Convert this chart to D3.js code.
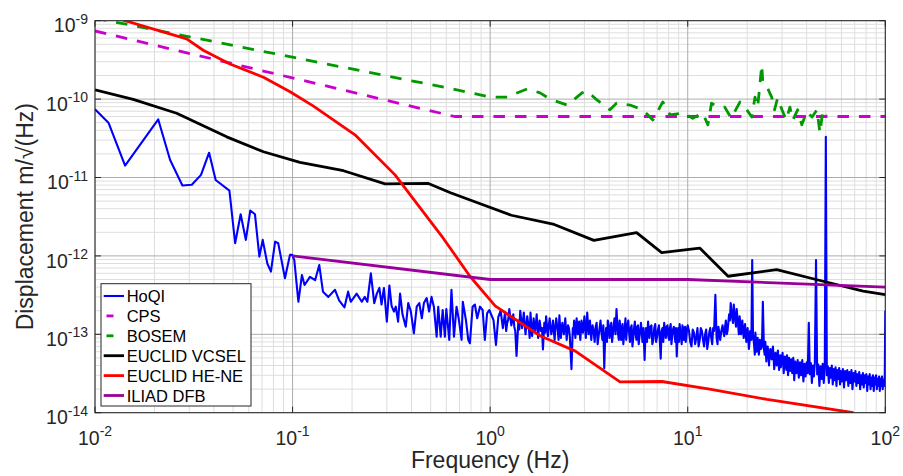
<!DOCTYPE html>
<html>
<head>
<meta charset="utf-8">
<script src="https://cdn.jsdelivr.net/npm/d3@7"></script>
<style>
    html, body { margin: 0; padding: 0; background: #fff; }
    svg { display: block; font-family: "Liberation Sans", Arial, Helvetica, sans-serif; }
</style>
</head>
<body>
<div id="chartContainer"></div>
<script>
"use strict";

// [frequency Hz, displacement m/sqrt(Hz)]
const hoqi = [
    [0.0100, 7.4e-11], [0.0117, 5.0e-11], [0.0142, 1.42e-11], [0.0209, 5.5e-11], [0.0240, 1.67e-11],
    [0.0277, 7.9e-12], [0.0309, 8.1e-12], [0.0344, 1.08e-11], [0.0378, 2.07e-11], [0.0408, 9.3e-12],
    [0.0479, 6.8e-12], [0.0512, 1.45e-12], [0.0546, 3.4e-12], [0.0580, 1.6e-12], [0.0611, 3.8e-12],
    [0.0645, 3.4e-12], [0.0679, 9.8e-13], [0.0706, 1.6e-12], [0.0745, 8.0e-13], [0.0777, 6.3e-13],
    [0.0816, 1.52e-12], [0.0846, 1.45e-12], [0.0915, 5.2e-13], [0.0970, 1.03e-12], [0.0995, 1.03e-12],
    [0.102, 8.9e-13], [0.107, 2.6e-13], [0.1115, 5.7e-13], [0.115, 4.25e-13], [0.1225, 5.4e-13],
    [0.130, 4.9e-13], [0.1365, 7.65e-13], [0.1425, 3.5e-13], [0.1517, 3.0e-13], [0.164, 3.7e-13],
    [0.172, 2.7e-13], [0.183, 2.2e-13], [0.191, 3.5e-13], [0.197, 2.6e-13], [0.211, 3.3e-13],
    [0.224, 2.6e-13], [0.232, 3.0e-13], [0.239, 2.6e-13], [0.249, 6.0e-13], [0.259, 2.5e-13],
    [0.267, 3.3e-13], [0.275, 3.9e-13], [0.282, 2.4e-13], [0.290, 3.9e-13], [0.300, 1.45e-13],
    [0.309, 4.2e-13], [0.317, 2.3e-13], [0.326, 1.95e-13], [0.333, 2.25e-13], [0.342, 1.45e-13],
    [0.350, 3.3e-13], [0.360, 1.8e-13], [0.374, 1.25e-13], [0.385, 2.5e-13], [0.397, 1.95e-13],
    [0.411, 1.03e-13], [0.425, 2.25e-13], [0.438, 2.5e-13], [0.451, 1.6e-13], [0.462, 2.5e-13],
    [0.477, 2.9e-13], [0.491, 1.95e-13], [0.505, 3.0e-13], [0.519, 2.25e-13], [0.536, 9.3e-14],
    [0.546, 2.25e-13], [0.562, 9.3e-14], [0.575, 2.04e-13], [0.590, 9.3e-14], [0.600, 2.1e-13],
    [0.621, 8.5e-14], [0.637, 3.7e-13], [0.656, 9.3e-14], [0.676, 2.25e-13], [0.695, 1.52e-13],
    [0.717, 8.5e-14], [0.727, 2.6e-13], [0.754, 1.52e-13], [0.775, 8.5e-14], [0.790, 7.7e-14],
    [0.815, 2.25e-13], [0.837, 2.4e-13], [0.860, 1.6e-13], [0.888, 2.25e-13], [0.916, 2.04e-13],
    [0.940, 8.5e-14], [0.965, 1.85e-13], [0.990, 2.04e-13], [1.04, 1.52e-13], [1.07, 7.3e-14],
    [1.10, 1.67e-13], [1.13, 2.0e-13], [1.16, 1.2e-13], [1.19, 1.9e-13], [1.22, 1.4e-13],
    [1.25, 2.1e-13], [1.28, 1.3e-13], [1.31, 1.8e-13], [1.34, 1.1e-13], [1.36, 5.3e-14],
    [1.39, 1.5e-13], [1.42, 2.0e-13], [1.45, 1.2e-13], [1.48, 1.9e-13], [1.51, 1.0e-13],
    [1.54, 1.7e-13], [1.57, 1.2e-13], [1.60, 1.9e-13], [1.63, 9.5e-14], [1.66, 1.6e-13],
    [1.69, 1.1e-13], [1.72, 1.8e-13], [1.75, 9.0e-14], [1.78, 1.5e-13], [1.81, 1.1e-13],
    [1.85, 6.4e-14], [1.88, 1.4e-13], [1.92, 1.7e-13], [1.96, 9.5e-14], [2.00, 1.6e-13],
    [2.04, 1.0e-13], [2.08, 1.5e-13], [2.12, 8.5e-14], [2.16, 1.6e-13], [2.20, 1.1e-13],
    [2.24, 1.75e-13], [2.28, 9.0e-14], [2.32, 1.4e-13], [2.36, 1.0e-13], [2.40, 1.6e-13],
    [2.44, 8.5e-14], [2.48, 1.3e-13], [2.53, 9.5e-14], [2.58, 3.6e-14], [2.62, 1.2e-13],
    [2.66, 1.5e-13], [2.70, 9.0e-14], [2.74, 1.6e-13], [2.78, 1.0e-13], [2.82, 1.45e-13],
    [2.86, 8.5e-14], [2.90, 1.5e-13], [2.95, 1.05e-13], [3.00, 1.7e-13], [3.05, 9.0e-14],
    [3.10, 1.9e-13], [3.15, 1.0e-13], [3.20, 1.5e-13], [3.25, 8.5e-14], [3.30, 1.3e-13],
    [3.38, 8.0e-14], [3.46, 1.4e-13], [3.54, 9.5e-14], [3.62, 1.5e-13], [3.70, 8.5e-14],
    [3.78, 3.7e-14], [3.86, 1.2e-13], [3.94, 1.5e-13], [4.02, 9.0e-14], [4.10, 1.4e-13],
    [4.18, 1.0e-13], [4.26, 1.6e-13], [4.36, 2.1e-13], [4.44, 1.0e-13], [4.52, 1.5e-13],
    [4.60, 8.5e-14], [4.68, 1.35e-13], [4.76, 9.5e-14], [4.84, 1.6e-13], [4.92, 1.1e-13],
    [5.00, 1.5e-13], [5.10, 8.0e-14], [5.20, 1.3e-13], [5.30, 9.0e-14], [5.40, 1.45e-13],
    [5.50, 8.5e-14], [5.60, 1.3e-13], [5.70, 9.5e-14], [5.80, 1.4e-13], [5.90, 8.0e-14],
    [6.05, 4.7e-14], [6.15, 1.2e-13], [6.30, 1.45e-13], [6.40, 9.0e-14], [6.55, 1.3e-13],
    [6.70, 8.5e-14], [6.85, 1.35e-13], [7.00, 9.5e-14], [7.15, 1.3e-13], [7.30, 4.9e-14],
    [7.45, 1.2e-13], [7.60, 1.4e-13], [7.75, 9.0e-14], [7.90, 1.3e-13], [8.05, 8.5e-14],
    [8.20, 1.35e-13], [8.35, 9.5e-14], [8.50, 1.25e-13], [8.65, 8.0e-14], [8.80, 5.2e-14],
    [8.95, 1.2e-13], [9.10, 1.35e-13], [9.25, 9.0e-14], [9.40, 1.3e-13], [9.55, 8.5e-14],
    [9.70, 1.25e-13], [9.85, 9.5e-14], [10.0, 1.3e-13], [10.3, 8.0e-14], [10.6, 1.15e-13],
    [10.9, 7.5e-14], [11.2, 1.2e-13], [11.5, 8.5e-14], [11.8, 1.1e-13], [12.1, 7.0e-14],
    [12.4, 1.15e-13], [12.7, 8.0e-14], [13.0, 1.2e-13], [13.3, 7.5e-14], [13.6, 1.1e-13],
    [13.8, 3.2e-13], [14.0, 9.0e-14], [14.3, 1.25e-13], [14.6, 8.5e-14], [15.0, 1.3e-13],
    [15.3, 9.5e-14], [15.6, 1.5e-13], [15.9, 1.1e-13], [16.2, 1.8e-13], [16.5, 2.5e-13],
    [16.8, 1.6e-13], [17.1, 2.4e-13], [17.4, 1.5e-13], [17.7, 2.1e-13], [18.0, 1.3e-13],
    [18.3, 1.7e-13], [18.6, 1.0e-13], [18.9, 1.5e-13], [19.2, 9.0e-14], [19.5, 1.35e-13],
    [19.8, 8.0e-14], [20.1, 1.2e-13], [20.4, 6.5e-14], [20.7, 1.1e-13], [21.0, 8.5e-14],
    [21.2, 8.85e-13], [21.4, 1.0e-13], [21.7, 7.0e-14], [22.0, 1.05e-13], [22.3, 6.0e-14],
    [22.6, 9.0e-14], [22.9, 5.5e-14], [23.2, 8.5e-14], [23.5, 6.5e-14], [24.0, 2.6e-13],
    [24.3, 6.5e-14], [24.7, 8.0e-14], [25.0, 4.5e-14], [25.4, 7.0e-14], [25.8, 4.0e-14],
    [26.2, 6.5e-14], [26.6, 4.8e-14], [27.0, 7.0e-14], [27.4, 3.6e-14], [27.8, 5.8e-14],
    [28.2, 4.0e-14], [28.6, 6.2e-14], [29.0, 3.5e-14], [29.4, 5.4e-14], [29.8, 4.2e-14],
    [30.2, 5.8e-14], [30.6, 3.2e-14], [31.0, 5.2e-14], [31.4, 3.8e-14], [31.8, 5.4e-14],
    [32.2, 3.0e-14], [32.6, 5.0e-14], [33.0, 3.4e-14], [33.4, 4.8e-14], [33.8, 3.2e-14],
    [34.2, 5.0e-14], [34.6, 2.6e-14], [35.0, 4.5e-14], [35.5, 3.2e-14], [36.0, 4.7e-14],
    [36.5, 2.8e-14], [37.0, 4.4e-14], [37.5, 3.0e-14], [38.0, 4.7e-14], [38.5, 2.5e-14],
    [39.0, 4.2e-14], [39.5, 2.9e-14], [40.0, 4.4e-14], [40.5, 3.2e-14], [41.0, 1.4e-13],
    [41.5, 3.1e-14], [42.0, 4.3e-14], [42.5, 2.4e-14], [43.0, 4.0e-14], [43.5, 2.9e-14],
    [44.0, 4.3e-14], [44.6, 8.85e-13], [45.2, 3.1e-14], [45.8, 4.1e-14], [46.4, 2.2e-14],
    [47.0, 3.9e-14], [47.6, 2.7e-14], [48.2, 4.2e-14], [48.8, 2.4e-14], [49.4, 3.9e-14],
    [50.0, 3.3e-11], [50.6, 3.0e-14], [51.2, 3.9e-14], [51.8, 2.4e-14], [52.4, 3.7e-14],
    [53.0, 2.8e-14], [53.6, 4.0e-14], [54.2, 2.3e-14], [54.8, 3.6e-14], [55.4, 2.6e-14],
    [56.0, 3.8e-14], [56.6, 2.2e-14], [57.2, 3.5e-14], [57.8, 2.7e-14], [58.4, 3.7e-14],
    [59.0, 2.3e-14], [59.6, 3.4e-14], [60.2, 2.5e-14], [61.0, 3.6e-14], [61.8, 2.1e-14],
    [62.6, 3.4e-14], [63.4, 2.6e-14], [64.2, 3.5e-14], [65.0, 2.2e-14], [65.8, 3.3e-14],
    [66.6, 2.4e-14], [67.4, 3.5e-14], [68.2, 2.0e-14], [69.0, 3.2e-14], [69.8, 2.5e-14],
    [70.6, 3.4e-14], [71.4, 2.2e-14], [72.2, 3.1e-14], [73.0, 2.4e-14], [73.8, 3.3e-14],
    [74.6, 2.0e-14], [75.4, 3.0e-14], [76.2, 2.3e-14], [77.0, 3.2e-14], [77.8, 2.1e-14],
    [78.6, 3.0e-14], [79.4, 2.4e-14], [80.2, 3.1e-14], [81.0, 1.9e-14], [81.8, 2.9e-14],
    [82.6, 2.3e-14], [83.4, 3.1e-14], [84.2, 2.0e-14], [85.0, 2.8e-14], [85.8, 2.2e-14],
    [86.6, 3.0e-14], [87.4, 1.9e-14], [88.2, 2.8e-14], [89.0, 2.3e-14], [89.8, 3.0e-14],
    [90.6, 2.0e-14], [91.4, 2.7e-14], [92.2, 2.2e-14], [93.0, 2.9e-14], [93.8, 1.9e-14],
    [94.6, 2.7e-14], [95.4, 2.2e-14], [96.2, 2.9e-14], [97.0, 2.0e-14], [97.8, 2.6e-14],
    [98.6, 2.2e-14], [99.4, 3.0e-14], [100, 2.0e-13]
];

// extra HoQI readings in between, where the trace is a dense band
const hoqiDense = [
    [1.205, 1.1e-13], [1.235, 1.55e-13], [1.295, 1.5e-13], [1.325, 1.25e-13], [1.405, 1.15e-13],
    [1.465, 1.45e-13], [1.525, 1.3e-13], [1.585, 9.0e-14], [1.645, 1.2e-13], [1.705, 1.35e-13],
    [1.765, 1.2e-13], [1.83, 1.2e-13], [1.90, 1.05e-13], [1.98, 1.25e-13], [2.06, 1.15e-13],
    [2.14, 1.25e-13], [2.22, 8.5e-14], [2.30, 1.2e-13], [2.38, 1.25e-13], [2.46, 1.1e-13],
    [2.505, 1.2e-13], [2.64, 1.0e-13], [2.72, 1.25e-13], [2.80, 1.2e-13], [2.88, 1.1e-13],
    [2.975, 1.3e-13], [3.075, 1.25e-13], [3.175, 1.3e-13], [3.275, 1.1e-13],
    [3.34, 1.1e-13], [3.42, 1.25e-13], [3.50, 7.5e-14], [3.58, 1.2e-13], [3.66, 1.05e-13],
    [3.74, 1.3e-13], [3.82, 9.0e-14], [3.90, 8.0e-14], [3.98, 1.3e-13], [4.06, 1.2e-13],
    [4.14, 8.0e-14], [4.22, 1.3e-13], [4.31, 1.0e-13], [4.40, 1.4e-13], [4.48, 8.5e-14],
    [4.56, 1.25e-13], [4.64, 1.1e-13], [4.72, 7.5e-14], [4.80, 1.2e-13], [4.88, 8.5e-14],
    [4.96, 1.3e-13], [5.05, 1.05e-13], [5.15, 1.2e-13], [5.25, 7.0e-14], [5.35, 1.2e-13],
    [5.45, 1.0e-13], [5.55, 1.25e-13], [5.65, 7.5e-14], [5.75, 1.15e-13], [5.85, 1.05e-13],
    [5.97, 1.2e-13], [6.10, 9.0e-14], [6.22, 8.0e-14], [6.35, 1.1e-13], [6.47, 1.25e-13],
    [6.62, 7.5e-14], [6.77, 1.2e-13], [6.92, 8.0e-14], [7.07, 1.15e-13], [7.22, 8.5e-14],
    [7.37, 1.1e-13], [7.52, 8.0e-14], [7.67, 1.15e-13], [7.82, 1.25e-13], [7.97, 9.5e-14],
    [8.12, 1.2e-13], [8.27, 7.5e-14], [8.42, 1.15e-13], [8.57, 1.05e-13], [8.72, 1.2e-13],
    [8.87, 9.0e-14], [9.02, 8.0e-14], [9.17, 1.1e-13], [9.32, 7.5e-14], [9.47, 1.2e-13],
    [9.62, 1.05e-13], [9.77, 8.0e-14], [9.92, 1.15e-13], [10.15, 1.1e-13], [10.45, 7.0e-14],
    [10.75, 1.05e-13], [11.05, 9.0e-14], [11.35, 7.0e-14], [11.65, 1.2e-13], [11.95, 8.5e-14],
    [12.25, 1.0e-13], [12.55, 6.5e-14], [12.85, 1.05e-13], [13.15, 9.0e-14], [13.45, 1.2e-13],
    [14.15, 7.5e-14], [14.45, 1.05e-13], [14.8, 1.1e-13], [15.15, 1.1e-13], [15.45, 1.25e-13],
    [15.75, 1.0e-13], [16.05, 1.4e-13], [16.35, 1.5e-13], [16.65, 2.0e-13], [16.95, 1.4e-13],
    [17.25, 1.9e-13], [17.55, 1.25e-13], [17.85, 1.6e-13], [18.15, 1.0e-13], [18.45, 1.4e-13],
    [18.75, 1.25e-13], [19.05, 1.1e-13], [19.35, 1.2e-13], [19.65, 1.0e-13], [19.95, 1.0e-13],
    [20.25, 9.0e-14], [20.55, 8.0e-14], [20.85, 9.5e-14], [21.55, 8.5e-14], [21.85, 5.5e-14],
    [22.15, 8.0e-14], [22.45, 7.5e-14], [22.75, 7.0e-14], [23.05, 6.5e-14], [23.35, 7.5e-14],
    [23.75, 7.0e-14], [24.5, 5.5e-14], [24.85, 6.0e-14], [25.2, 7.0e-14], [25.6, 5.5e-14],
    [26.0, 6.0e-14], [26.4, 5.0e-14], [26.8, 6.0e-14], [27.2, 5.0e-14], [27.6, 4.5e-14],
    [28.0, 5.0e-14], [28.4, 5.5e-14], [28.8, 4.5e-14], [29.2, 4.8e-14], [29.6, 3.8e-14],
    [30.0, 5.0e-14], [30.4, 4.5e-14], [30.8, 4.2e-14], [31.2, 4.8e-14], [31.6, 3.5e-14],
    [32.0, 4.5e-14], [32.4, 4.0e-14], [32.8, 3.6e-14], [33.2, 4.3e-14], [33.6, 4.0e-14],
    [34.0, 3.8e-14], [34.4, 4.2e-14], [34.8, 3.5e-14]
];

const cps = [[0.01, 7.4e-10], [0.66, 6.0e-11], [100, 6.0e-11]];

const bosem = [
    [0.01, 1.08e-9], [0.625, 1.37e-10], [0.764, 1.23e-10], [1.0, 1.06e-10], [1.23, 1.06e-10],
    [1.29, 1.13e-10], [1.54, 1.35e-10], [1.79, 1.2e-10], [2.01, 1.0e-10], [2.45, 8.4e-11],
    [2.92, 1.2e-10], [3.1, 1.27e-10], [3.47, 9.75e-11], [4.04, 7.3e-11], [4.37, 8.9e-11],
    [5.1, 8.4e-11], [5.93, 7.3e-11], [6.66, 5.4e-11], [7.48, 9.2e-11], [8.13, 6.3e-11],
    [9.46, 6.65e-11], [10.6, 5.7e-11], [11.9, 6.65e-11], [12.65, 4.7e-11], [13.2, 8.9e-11],
    [14.2, 7.9e-11], [15.4, 7.9e-11], [16.6, 5.7e-11], [18.4, 9.2e-11], [19.9, 7.3e-11],
    [21.1, 5.9e-11], [21.9, 1.06e-10], [22.6, 7.9e-11], [23.7, 2.72e-10], [24.0, 1.6e-10],
    [25.2, 1.43e-10], [26.6, 1.06e-10], [27.5, 7.3e-11], [28.5, 1.03e-10], [30.0, 7.3e-11],
    [31.5, 5.4e-11], [32.9, 7.9e-11], [34.0, 5.4e-11], [36.0, 7.3e-11], [37.8, 4.7e-11],
    [40.0, 6.85e-11], [42.6, 5.9e-11], [45.1, 7.3e-11], [46.7, 3.7e-11], [48.3, 7.3e-11],
    [50.0, 6.3e-11]
];

const vcsel = [
    [0.01, 1.31e-10], [0.0156, 9.9e-11], [0.0259, 6.6e-11], [0.0464, 3.3e-11], [0.0712, 2.13e-11],
    [0.109, 1.56e-11], [0.181, 1.22e-11], [0.294, 8.3e-12], [0.487, 8.4e-12], [0.63, 6.4e-12],
    [1.28, 3.3e-12], [2.08, 2.55e-12], [3.35, 1.58e-12], [5.51, 1.98e-12], [7.38, 1.1e-12],
    [11.5, 1.26e-12], [16.0, 5.5e-13], [28.2, 6.7e-13], [44.6, 5.0e-13], [77.3, 3.56e-13],
    [100, 3.2e-13]
];

const hene = [
    [0.01, 1.3e-9], [0.0142, 1.0e-9], [0.0291, 5.85e-10], [0.0353, 4.2e-10], [0.0482, 2.8e-10],
    [0.0712, 1.9e-10], [0.0971, 1.24e-10], [0.127, 8.2e-11], [0.207, 3.5e-11], [0.33, 1.08e-11],
    [0.58, 1.67e-12], [0.79, 5.5e-13], [1.06, 2.3e-13], [1.8, 9.5e-14], [2.7, 6.1e-14],
    [4.54, 2.47e-14], [7.4, 2.5e-14], [12.9, 2.0e-14], [25.2, 1.48e-14], [69, 1.0e-14]
];

const dfb = [[0.1, 1.0e-12], [1, 5.0e-13], [10, 5.0e-13], [100, 4.0e-13]];

const seriesNames = ["HoQI", "CPS", "BOSEM", "EUCLID VCSEL", "EUCLID HE-NE", "ILIAD DFB"];
const xTickExps = [-2, -1, 0, 1, 2];
const yTickExps = [-14, -13, -12, -11, -10, -9];

const seriesStyles = [
    { color: "#0000ff", width: 2.1, dash: null },
    { color: "#cc00cc", width: 2.8, dash: "11.5,10" },
    { color: "#009900", width: 2.8, dash: "11.5,10" },
    { color: "#000000", width: 2.8, dash: null },
    { color: "#ff0000", width: 2.8, dash: null },
    { color: "#990099", width: 2.8, dash: null }
];

const drawChart = () => {
    var width = 903,
        height = 476;
    var left = 95, right = 885.3, top = 20.7, bottom = 412.7;

    var svg = d3.select("#chartContainer")
        .append("svg")
        .attr("width", width)
        .attr("height", height);

    var x = d3.scaleLog().domain([1e-2, 1e2]).range([left, right]);
    var y = d3.scaleLog().domain([1e-14, 1e-9]).range([bottom, top]);

    var xMajor = xTickExps.map(e => Math.pow(10, e));
    var yMajor = yTickExps.map(e => Math.pow(10, e));
    var isMajor = v => Math.abs(Math.log10(v) - Math.round(Math.log10(v))) < 1e-6;
    var xMinor = x.ticks().filter(v => !isMajor(v));
    var yMinor = y.ticks().filter(v => !isMajor(v));

    // grid
    var grid = svg.append("g");
    grid.selectAll(".xminor").data(xMinor).enter().append("line")
        .attr("x1", d => x(d)).attr("x2", d => x(d))
        .attr("y1", top).attr("y2", bottom)
        .attr("stroke", "#dedede").attr("stroke-width", 1);
    grid.selectAll(".yminor").data(yMinor).enter().append("line")
        .attr("x1", left).attr("x2", right)
        .attr("y1", d => y(d)).attr("y2", d => y(d))
        .attr("stroke", "#dedede").attr("stroke-width", 1);
    grid.selectAll(".xmajor").data(xMajor).enter().append("line")
        .attr("x1", d => x(d)).attr("x2", d => x(d))
        .attr("y1", top).attr("y2", bottom)
        .attr("stroke", "#adadad").attr("stroke-width", 1);
    grid.selectAll(".ymajor").data(yMajor).enter().append("line")
        .attr("x1", left).attr("x2", right)
        .attr("y1", d => y(d)).attr("y2", d => y(d))
        .attr("stroke", "#adadad").attr("stroke-width", 1);

    // series
    svg.append("clipPath").attr("id", "plotClip")
        .append("rect")
        .attr("x", left).attr("y", top)
        .attr("width", right - left).attr("height", bottom - top);

    var line = d3.line()
        .x(d => x(d[0]))
        .y(d => y(d[1]));

    var hoqiAll = d3.sort(hoqi.concat(hoqiDense), d => d[0]);
    var allSeries = [hoqiAll, cps, bosem, vcsel, hene, dfb];
    var plot = svg.append("g").attr("clip-path", "url(#plotClip)");
    allSeries.forEach((data, i) => {
        var st = seriesStyles[i];
        plot.append("path")
            .datum(data)
            .attr("fill", "none")
            .attr("stroke", st.color)
            .attr("stroke-width", st.width)
            .attr("stroke-linejoin", "round")
            .attr("stroke-dasharray", st.dash)
            .attr("d", line);
    });

    // axes box and ticks
    var axes = svg.append("g").attr("stroke", "#262626").attr("stroke-width", 1);
    axes.append("rect")
        .attr("x", left).attr("y", top)
        .attr("width", right - left).attr("height", bottom - top)
        .attr("fill", "none");
    xMajor.forEach(v => {
        axes.append("line").attr("x1", x(v)).attr("x2", x(v)).attr("y1", bottom).attr("y2", bottom - 6);
        axes.append("line").attr("x1", x(v)).attr("x2", x(v)).attr("y1", top).attr("y2", top + 6);
    });
    yMajor.forEach(v => {
        axes.append("line").attr("x1", left).attr("x2", left + 6).attr("y1", y(v)).attr("y2", y(v));
        axes.append("line").attr("x1", right).attr("x2", right - 6).attr("y1", y(v)).attr("y2", y(v));
    });

    // tick labels 10^n
    var xLabels = svg.append("g");
    xTickExps.forEach(e => {
        var t = xLabels.append("text")
            .attr("x", x(Math.pow(10, e)))
            .attr("y", bottom + 32)
            .attr("text-anchor", "middle")
            .attr("fill", "#262626")
            .attr("font-size", "19.5px");
        t.append("tspan").text("10");
        t.append("tspan").attr("dy", -8.6).attr("font-size", "14px").text(String(e));
    });

    var yLabels = svg.append("g");
    yTickExps.forEach(e => {
        var t = yLabels.append("text")
            .attr("x", left - 7)
            .attr("y", y(Math.pow(10, e)) + 11.6)
            .attr("text-anchor", "end")
            .attr("fill", "#262626")
            .attr("font-size", "19.5px");
        t.append("tspan").text("10");
        t.append("tspan").attr("dy", -8.6).attr("font-size", "14px").text(String(e));
    });

    // axis titles
    svg.append("text")
        .attr("x", (left + right) / 2)
        .attr("y", 468)
        .attr("text-anchor", "middle")
        .attr("fill", "#262626")
        .attr("font-size", "23px")
        .text("Frequency (Hz)");

    svg.append("text")
        .attr("transform", "translate(33," + ((top + bottom) / 2) + ") rotate(-90)")
        .attr("text-anchor", "middle")
        .attr("fill", "#262626")
        .attr("font-size", "23px")
        .text("Displacement m/\u221A(Hz)");

    // legend
    var legend = svg.append("g");
    legend.append("rect")
        .attr("x", 101).attr("y", 283.7)
        .attr("width", 150).attr("height", 122.3)
        .attr("fill", "#fff")
        .attr("stroke", "#262626")
        .attr("stroke-width", 1);

    seriesNames.forEach((name, i) => {
        var st = seriesStyles[i];
        var cy = 296 + i * 19.9;
        legend.append("line")
            .attr("x1", st.dash ? 106.5 : 103.7)
            .attr("x2", st.dash ? 113.5 : 124)
            .attr("y1", cy).attr("y2", cy)
            .attr("stroke", st.color)
            .attr("stroke-width", st.width);
        legend.append("text")
            .attr("x", 126.7)
            .attr("y", cy + 6)
            .attr("fill", "#000")
            .attr("font-size", "16.5px")
            .text(name);
    });
}

drawChart();
</script>
</body>
</html>
